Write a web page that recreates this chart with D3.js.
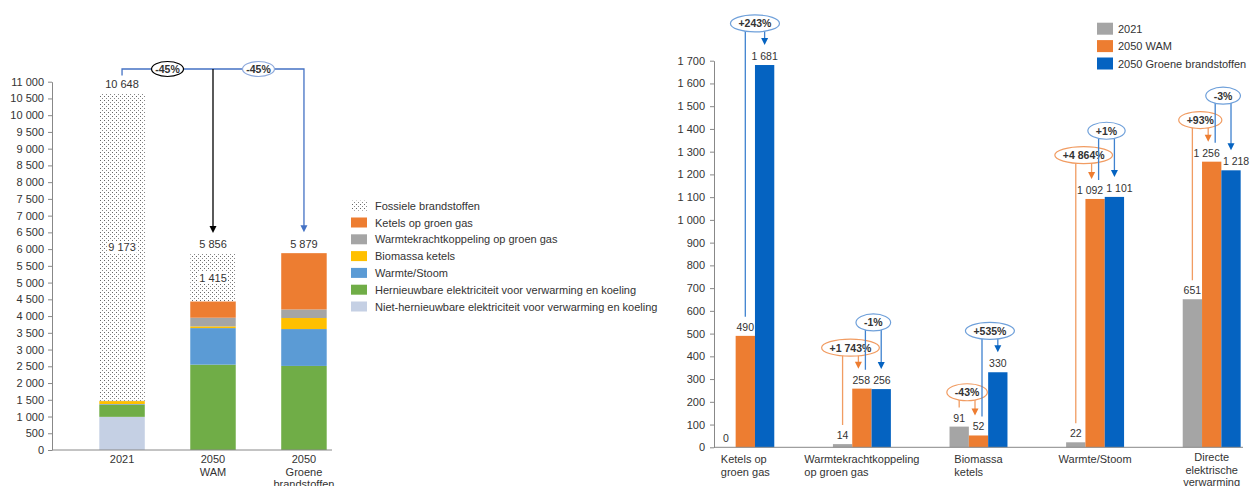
<!DOCTYPE html>
<html>
<head>
<meta charset="utf-8">
<script src="https://cdn.jsdelivr.net/npm/d3@7"></script>
<style>
  body { margin: 0; background: #fff; }
  text { font-family: "Liberation Sans", Arial, sans-serif; fill: #333; }
</style>
</head>
<body>
<div id="wrapper"></div>
<script>
/* left chart: stacked bars, total heat demand per scenario */
const stackCategories = [["2021"], ["2050", "WAM"], ["2050", "Groene", "brandstoffen"]]
const stackKeys = ["niet", "hern", "warmte", "bio", "wkk", "ketels", "fossiel"]
const stackNames = [
  "Niet-hernieuwbare elektriciteit voor verwarming en koeling",
  "Hernieuwbare elektriciteit voor verwarming en koeling",
  "Warmte/Stoom",
  "Biomassa ketels",
  "Warmtekrachtkoppeling op groen gas",
  "Ketels op groen gas",
  "Fossiele brandstoffen"
]
const nietHernieuwbaar = [990, 0, 0]
const hernieuwbaar = [358, 2549, 2511]
const warmteStoom = [22, 1092, 1101]
const biomassa = [91, 52, 330]
const wkk = [14, 258, 256]
const ketelsGroenGas = [0, 490, 1681]
const fossiel = [9173, 1415, 0]
const totals = [10648, 5856, 5879]
const leftChanges = ["-45%", "-45%"]

/* right chart: grouped bars per technology */
const groupCategories = [
  ["Ketels op", "groen gas"],
  ["Warmtekrachtkoppeling", "op groen gas"],
  ["Biomassa", "ketels"],
  ["Warmte/Stoom"],
  ["Directe", "elektrische", "verwarming"]
]
const seriesNames = ["2021", "2050 WAM", "2050 Groene brandstoffen"]
const values2021 = [0, 14, 91, 22, 651]
const valuesWAM = [490, 258, 52, 1092, 1256]
const valuesGroene = [1681, 256, 330, 1101, 1218]
// change labels: [category, from series, to series, text]
const changes = [
  [0, 1, 2, "+243%"],
  [1, 0, 1, "+1 743%"],
  [1, 1, 2, "-1%"],
  [2, 0, 1, "-43%"],
  [2, 1, 2, "+535%"],
  [3, 0, 1, "+4 864%"],
  [3, 1, 2, "+1%"],
  [4, 0, 1, "+93%"],
  [4, 1, 2, "-3%"]
]

function drawChart() {
  const fmt = d => d3.format(",")(d).replace(/,/g, " ")

  const svg = d3.select("#wrapper").append("svg")
    .attr("width", 1250).attr("height", 486)

  // dotted fill for fossil
  const defs = svg.append("defs")
  const pat = defs.append("pattern").attr("id", "dots")
    .attr("patternUnits", "userSpaceOnUse").attr("width", 4).attr("height", 4)
  pat.append("rect").attr("width", 4).attr("height", 4).attr("fill", "#fff")
  pat.append("rect").attr("x", 0).attr("y", 0).attr("width", 1).attr("height", 1).attr("fill", "#666")
  pat.append("rect").attr("x", 2).attr("y", 2).attr("width", 1).attr("height", 1).attr("fill", "#888")

  const stackColors = {
    niet: "#C5D0E4", hern: "#70AD47", warmte: "#5B9BD5", bio: "#FFC000",
    wkk: "#A5A5A5", ketels: "#ED7D31", fossiel: "url(#dots)"
  }

  /* ---------- LEFT ---------- */
  const yL = d3.scaleLinear().domain([0, 11000]).range([450, 81.7])
  const xL = d3.scaleBand().domain(d3.range(3)).range([52, 374])
    .paddingInner(0.5).paddingOuter(0.52)

  const rows = d3.range(3).map(i => ({
    niet: nietHernieuwbaar[i], hern: hernieuwbaar[i], warmte: warmteStoom[i],
    bio: biomassa[i], wkk: wkk[i], ketels: ketelsGroenGas[i], fossiel: fossiel[i]
  }))
  const stacked = d3.stack().keys(stackKeys)(rows)

  const left = svg.append("g")
  left.selectAll(".layer").data(stacked).join("g")
    .attr("fill", d => stackColors[d.key])
    .selectAll("rect").data(d => d).join("rect")
    .attr("x", (d, i) => xL(i))
    .attr("width", xL.bandwidth())
    .attr("y", d => yL(d[1]))
    .attr("height", d => yL(d[0]) - yL(d[1]))

  const yAxisL = left.append("g").attr("transform", "translate(52,0)")
    .call(d3.axisLeft(yL).tickValues(d3.range(0, 11001, 500)).tickSize(4).tickSizeOuter(0).tickFormat(fmt))
  yAxisL.select(".domain").attr("stroke", "#888")
  yAxisL.selectAll(".tick line").attr("stroke", "#888")
  yAxisL.selectAll(".tick text").attr("font-size", 11).attr("fill", "#333").attr("x", -8)
    .style("font-family", "Liberation Sans, Arial, sans-serif")

  left.append("line").attr("x1", 52).attr("x2", 332).attr("y1", yL(0)).attr("y2", yL(0))
    .attr("stroke", "#888")

  stackCategories.forEach((lines, i) => {
    const t = left.append("text").attr("text-anchor", "middle").attr("font-size", 11)
    lines.forEach((l, j) => t.append("tspan")
      .attr("x", xL(i) + xL.bandwidth() / 2).attr("y", 463 + j * 12.5).text(l))
  })

  // totals on top
  totals.forEach((v, i) => {
    left.append("text").attr("text-anchor", "middle").attr("font-size", 11)
      .attr("x", xL(i) + xL.bandwidth() / 2).attr("y", yL(v) - 5.5).text(fmt(v))
  })
  // fossil values inside the dotted part
  fossiel.forEach((v, i) => {
    if (!v) return
    const mid = yL(totals[i] - v / 2)
    const g = left.append("g")
    const t = g.append("text").attr("text-anchor", "middle").attr("font-size", 11)
      .attr("x", xL(i) + xL.bandwidth() / 2).attr("y", mid + 4).text(fmt(v))
    const bb = t.node().getBBox()
    g.insert("rect", "text").attr("x", bb.x - 1).attr("y", bb.y).attr("width", bb.width + 2)
      .attr("height", bb.height).attr("fill", "#fff")
  })

  // -45% arrows
  const cx = i => xL(i) + xL.bandwidth() / 2
  const topY = 69
  const tipL = i => yL(totals[i]) - 21
  left.append("path")
    .attr("d", `M${cx(0)},${yL(totals[0]) - 18}V${topY}H${cx(2)}V${tipL(2) - 5}`)
    .attr("fill", "none").attr("stroke", "#4472C4").attr("stroke-width", 1.3)
  left.append("path").attr("d", `M${cx(1)},${topY}V${tipL(1) - 5}`)
    .attr("stroke", "#000").attr("stroke-width", 1.3)
  ;[[1, "#000", "#000"], [2, "#4472C4", "#8FAADC"]].forEach(([i, c, ring]) => {
    const tip = tipL(i)
    left.append("path").attr("d", `M${cx(i) - 3.5},${tip - 7}L${cx(i) + 3.5},${tip - 7}L${cx(i)},${tip}Z`)
      .attr("fill", c)
    const ex = (cx(i - 1) + cx(i)) / 2
    left.append("ellipse").attr("cx", ex).attr("cy", topY).attr("rx", 16).attr("ry", 7.5)
      .attr("fill", "#fff").attr("stroke", ring).attr("stroke-width", 1.2)
    left.append("text").attr("x", ex).attr("y", topY + 4).attr("text-anchor", "middle")
      .attr("font-size", 10.5).attr("font-weight", "bold").attr("fill", "#222")
      .text(leftChanges[i - 1])
  })

  // left legend, top item = top of the stack
  const legL = svg.append("g")
  stackKeys.slice().reverse().forEach((k, j) => {
    const y = 205.7 + j * 16.8
    legL.append("rect").attr("x", 351).attr("y", y - 5).attr("width", 16).attr("height", 10)
      .attr("fill", stackColors[k])
    legL.append("text").attr("x", 375).attr("y", y + 4).attr("font-size", 11)
      .text(stackNames[stackKeys.length - 1 - j])
  })

  /* ---------- RIGHT ---------- */
  const yR = d3.scaleLinear().domain([0, 1700]).range([447.3, 60.7])
  const xR = d3.scaleBand().domain(d3.range(5)).range([714, 1243])
    .paddingInner(0.503).paddingOuter(0.02)
  const x1 = d3.scaleBand().domain(d3.range(3)).range([0, xR.bandwidth()])
  const seriesColors = ["#A5A5A5", "#ED7D31", "#0563C1"]
  const series = [values2021, valuesWAM, valuesGroene]

  const right = svg.append("g")
  const valueLabels = []
  series.forEach((vals, s) => {
    right.append("g").attr("fill", seriesColors[s])
      .selectAll("rect").data(vals).join("rect")
      .attr("x", (d, i) => xR(i) + x1(s))
      .attr("width", x1.bandwidth())
      .attr("y", d => yR(d))
      .attr("height", d => yR(0) - yR(d))
    valueLabels[s] = right.append("g").selectAll("text").data(vals).join("text")
      .attr("text-anchor", "middle").attr("font-size", 10.5)
      .attr("x", (d, i) => xR(i) + x1(s) + x1.bandwidth() / 2)
      .attr("y", d => yR(d) - 5)
      .text(fmt)
  })
  // push apart neighbouring labels that would collide (like Excel does)
  d3.range(5).forEach(i => {
    for (let s = 0; s < 2; s++) {
      const a = valueLabels[s].nodes()[i], b = valueLabels[s + 1].nodes()[i]
      const ba = a.getBBox(), bb = b.getBBox()
      const vOverlap = !(ba.y + ba.height < bb.y || bb.y + bb.height < ba.y)
      const over = ba.x + ba.width + 3 - bb.x
      if (vOverlap && over > 0) {
        a.setAttribute("x", +a.getAttribute("x") - over / 2)
        b.setAttribute("x", +b.getAttribute("x") + over / 2)
      }
    }
  })

  const yAxisR = right.append("g").attr("transform", "translate(714,0)")
    .call(d3.axisLeft(yR).tickValues(d3.range(0, 1701, 100)).tickSize(4).tickSizeOuter(0).tickFormat(fmt))
  yAxisR.select(".domain").attr("stroke", "#888")
  yAxisR.selectAll(".tick line").attr("stroke", "#888")
  yAxisR.selectAll(".tick text").attr("font-size", 11).attr("fill", "#333").attr("x", -9)
    .style("font-family", "Liberation Sans, Arial, sans-serif")
  right.append("line").attr("x1", 714).attr("x2", 1243).attr("y1", yR(0)).attr("y2", yR(0))
    .attr("stroke", "#888")

  groupCategories.forEach((lines, i) => {
    const centered = lines.length > 2
    const c = xR(i) + xR.bandwidth() / 2
    const t = right.append("text").attr("font-size", 11)
      .attr("text-anchor", centered ? "middle" : "start")
    const spans = lines.map((l, j) => t.append("tspan").attr("x", c)
      .attr("y", (centered ? 461 : 463) + j * 12.5).text(l))
    if (!centered) {
      const w = d3.max(spans, s => s.node().getComputedTextLength())
      spans.forEach(s => s.attr("x", c - w / 2))
    }
  })

  // change bubbles; height (in axis units) of each bubble
  const bubbleLevels = [1864, 438, 549, 242, 512, 1285, 1392, 1439, 1546]
  const barX = (cat, s) => xR(cat) + x1(s) + x1.bandwidth() / 2
  const styles = {
    1: { line: "#F19C62", ring: "#F19C62", head: "#ED7D31", text: "#ED7D31" },
    2: { line: "#3F82CF", ring: "#6FA0DA", head: "#0563C1", text: "#1160BE" }
  }
  const bubbles = right.append("g")
  changes.forEach(([cat, from, to, label], k) => {
    const st = styles[to]
    const shiftFrom = (from === 1 && changes.some(b => b[0] === cat && b[2] === 1)) ? 3.5 : 0
    const shiftTo = (to === 1 && changes.some(b => b[0] === cat && b[1] === 1)) ? -3.5 : 0
    const fx = barX(cat, from) + shiftFrom
    const tx = barX(cat, to) + shiftTo
    const ey = yR(bubbleLevels[k])
    const fromY = yR(series[from][cat]) - 19
    const tipY = yR(series[to][cat]) - 20
    bubbles.append("path").attr("d", `M${fx},${fromY}V${ey}M${tx},${ey}V${tipY - 5}`)
      .attr("stroke", st.line).attr("stroke-width", 1.3).attr("fill", "none")
    bubbles.append("path").attr("d", `M${tx - 3.5},${tipY - 7}L${tx + 3.5},${tipY - 7}L${tx},${tipY}Z`)
      .attr("fill", st.head)
    const ex = (fx + tx) / 2
    const el = bubbles.append("ellipse").attr("cx", ex).attr("cy", ey).attr("ry", 8.5)
      .attr("fill", "#fff").attr("stroke", st.ring).attr("stroke-width", 1.2)
    const t = bubbles.append("text").attr("x", ex).attr("y", ey + 4).attr("text-anchor", "middle")
      .attr("font-size", 10.5).attr("font-weight", "bold").attr("fill", st.text).text(label)
    el.attr("rx", t.node().getComputedTextLength() / 2 + 8)
  })

  // right legend
  const legR = svg.append("g")
  seriesNames.forEach((n, j) => {
    const y = 28.7 + j * 17.4
    legR.append("rect").attr("x", 1097).attr("y", y - 6).attr("width", 16).attr("height", 12)
      .attr("fill", seriesColors[j])
    legR.append("text").attr("x", 1118).attr("y", y + 4).attr("font-size", 11).text(n)
  })
}
drawChart()
</script>
</body>
</html>
